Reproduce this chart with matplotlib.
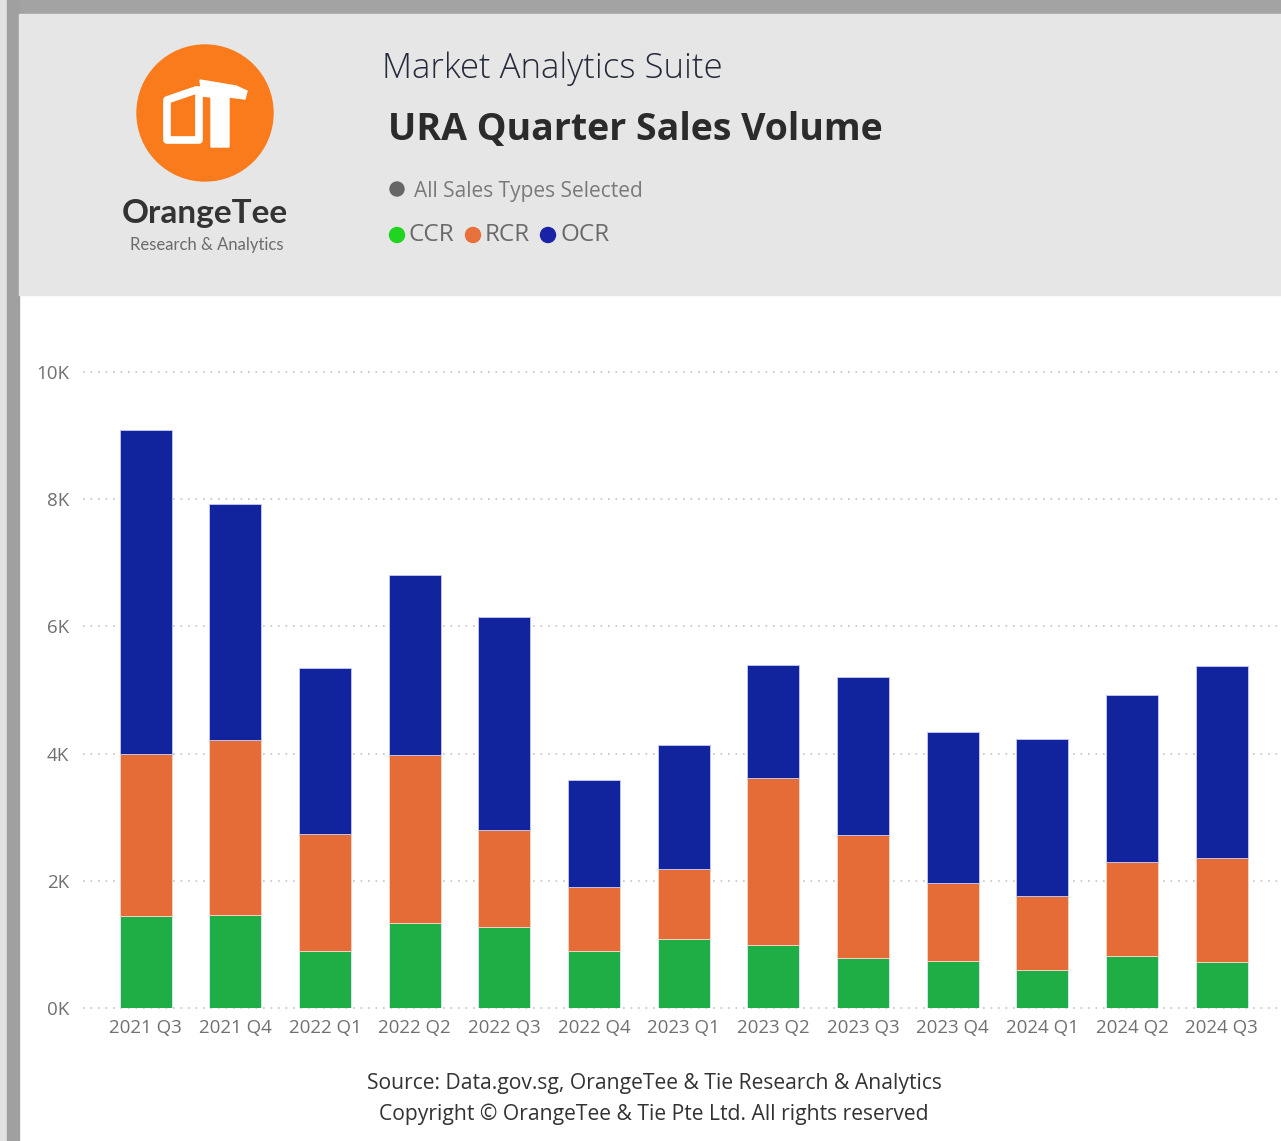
import numpy as np
import matplotlib
matplotlib.use('Agg')
import matplotlib.pyplot as plt
from matplotlib.patches import Rectangle, Circle, Polygon

plt.rcParams['font.family'] = ['Open Sans', 'DejaVu Sans']

# data
quarters = ['2021 Q3', '2021 Q4', '2022 Q1', '2022 Q2', '2022 Q3', '2022 Q4', '2023 Q1',
            '2023 Q2', '2023 Q3', '2023 Q4', '2024 Q1', '2024 Q2', '2024 Q3']
ccr = [1450, 1460, 900, 1340, 1280, 890, 1080, 990, 790, 740, 600, 820, 720]
rcr = [2550, 2760, 1840, 2640, 1520, 1020, 1110, 2620, 1930, 1220, 1160, 1470, 1640]
ocr = [5090, 3700, 2610, 2830, 3350, 1680, 1940, 1780, 2490, 2380, 2470, 2630, 3020]
yticks = [0, 2000, 4000, 6000, 8000, 10000]
ytick_labels = ['0K', '2K', '4K', '6K', '8K', '10K']

c_ccr = '#1fae46'
c_rcr = '#e56c37'
c_ocr = '#12239e'

W, H = 1281, 1141
fig = plt.figure(figsize=(W / 100, H / 100), dpi=100)

# background / card frame, drawn in pixel coords
bg = fig.add_axes([0, 0, 1, 1])
bg.set_xlim(0, W)
bg.set_ylim(H, 0)
bg.axis('off')
bg.add_patch(Rectangle((0, 0), W, H, color='white'))
bg.add_patch(Rectangle((0, 0), W, 14, color='#a3a3a3'))
bg.add_patch(Rectangle((0, 0), 7, H, color='#e2e2e2'))
bg.add_patch(Rectangle((7, 0), 12, H, color='#a0a0a0'))
bg.add_patch(Rectangle((19, 14), W - 19, 281, color='#e6e6e6'))

# logo
bg.add_patch(Circle((205, 113), 68, color='#f97b1c'))
bg.add_patch(Polygon([(167, 100), (196, 90), (199, 90), (199, 140), (167, 140)],
                     closed=True, fill=False, edgecolor='white', linewidth=5.5, joinstyle='round'))
bg.add_patch(Polygon([(200, 80), (236, 86), (247, 91), (245, 99), (229, 97), (229, 147),
                      (211, 147), (211, 97), (202, 96)], closed=True, color='white'))
bg.text(205, 213, 'OrangeTee', ha='center', va='center', fontsize=24, color='#333333',
        family=['Lato', 'DejaVu Sans'], fontweight='bold')
bg.text(207, 245, 'Research & Analytics', ha='center', va='center', fontsize=12,
        color='#6b6b6b', family=['Lato', 'DejaVu Sans'])

# header texts
bg.text(382, 69, 'Market Analytics Suite', ha='left', va='center', fontsize=25,
        color='#252a3a', fontweight='light')
bg.text(388, 130, 'URA Quarter Sales Volume', ha='left', va='center', fontsize=27,
        color='#2b2b2b', fontweight='bold')
bg.add_patch(Circle((397, 189), 7, color='#666666'))
bg.text(414, 191, 'All Sales Types Selected', ha='left', va='center', fontsize=15, color='#7a7a7a')
legend_items = [('CCR', '#22d422', 397, 409), ('RCR', '#e8703a', 473, 485), ('OCR', '#1a22a8', 548, 560)]
for name, col, dx, tx in legend_items:
    bg.add_patch(Circle((dx, 235), 7.5, color=col))
    bg.text(tx, 235, name, ha='left', va='center', fontsize=17.5, color='#6a6a6a')

# footer
bg.text(654, 1084, 'Source: Data.gov.sg, OrangeTee & Tie Research & Analytics', ha='center',
        va='center', fontsize=15.2, color='#333333')
bg.text(654, 1114, 'Copyright \u00a9 OrangeTee & Tie Pte Ltd. All rights reserved', ha='center',
        va='center', fontsize=15.2, color='#333333')

# main chart
left, right, top, bottom = 83, 1281, 372, 1008
ax = fig.add_axes([left / W, (H - bottom) / H, (right - left) / W, (bottom - top) / H])
ax.patch.set_alpha(0)
x = np.arange(len(quarters))
bw = 0.58
ccr_a = np.array(ccr)
rcr_a = np.array(rcr)
ocr_a = np.array(ocr)
ax.bar(x, ccr_a, bw, color=c_ccr, edgecolor='#dfe9ff', linewidth=0.6, zorder=3)
ax.bar(x, rcr_a, bw, bottom=ccr_a, color=c_rcr, edgecolor='#f3d8cc', linewidth=0.6, zorder=3)
ax.bar(x, ocr_a, bw, bottom=ccr_a + rcr_a, color=c_ocr, edgecolor='#c9ccf0', linewidth=0.6, zorder=3)

ax.set_xlim(-0.7, 12.66)
ax.set_ylim(0, 10000)
ax.set_yticks(yticks)
ax.set_yticklabels(ytick_labels)
ax.set_xticks(x)
ax.set_xticklabels(quarters)
ax.tick_params(axis='both', length=0, labelsize=13.5, labelcolor='#707070')
ax.tick_params(axis='y', pad=10)
ax.tick_params(axis='x', pad=8)
for yv in yticks:
    ax.axhline(yv, color='#c4c4c4', linewidth=1.2, linestyle=(0, (1, 3.5)), zorder=1, clip_on=False)
for s in ax.spines.values():
    s.set_visible(False)

plt.savefig('out.png', dpi=100)
